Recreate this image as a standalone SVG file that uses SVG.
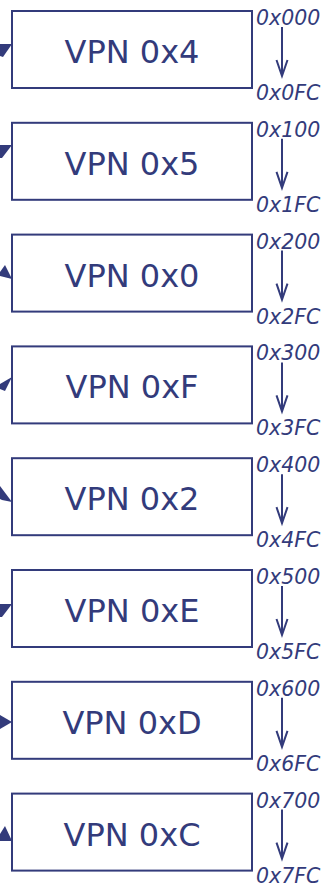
<svg xmlns="http://www.w3.org/2000/svg" width="324" height="886" viewBox="0 0 324 886">
<style>
.box{fill:#ffffff;stroke:#333b7b;stroke-width:2}
.vpn{font-family:"DejaVu Sans",Verdana,sans-serif;font-size:32px;fill:#333b7b;text-anchor:middle}
.addr{font-family:"DejaVu Sans",Verdana,sans-serif;font-size:20.5px;font-style:italic;fill:#333b7b}
.ln{stroke:#333b7b;stroke-width:2;fill:none}
.ah{fill:#333b7b;stroke:none}
</style>
<rect width="324" height="886" fill="#ffffff"/>
<defs>
<g id="range">
<line class="ln" x1="282" y1="27" x2="282" y2="76"/>
<polyline class="ln" points="276.5,60 282,76 287.5,60"/>
</g>
</defs>
<g id="node-0">
<rect class="box" x="12" y="11" width="240" height="77"/>
<text class="vpn" x="132" y="63">VPN 0x4</text>
<text class="addr" x="256" y="25">0x000</text>
<use href="#range"/>
<text class="addr" x="256" y="100">0x0FC</text>
</g>
<g id="node-1" transform="translate(0,111.8)">
<rect class="box" x="12" y="11" width="240" height="77"/>
<text class="vpn" x="132" y="63">VPN 0x5</text>
<text class="addr" x="256" y="25">0x100</text>
<use href="#range"/>
<text class="addr" x="256" y="100">0x1FC</text>
</g>
<g id="node-2" transform="translate(0,223.6)">
<rect class="box" x="12" y="11" width="240" height="77"/>
<text class="vpn" x="132" y="63">VPN 0x0</text>
<text class="addr" x="256" y="25">0x200</text>
<use href="#range"/>
<text class="addr" x="256" y="100">0x2FC</text>
</g>
<g id="node-3" transform="translate(0,335.4)">
<rect class="box" x="12" y="11" width="240" height="77"/>
<text class="vpn" x="132" y="63">VPN 0xF</text>
<text class="addr" x="256" y="25">0x300</text>
<use href="#range"/>
<text class="addr" x="256" y="100">0x3FC</text>
</g>
<g id="node-4" transform="translate(0,447.2)">
<rect class="box" x="12" y="11" width="240" height="77"/>
<text class="vpn" x="132" y="63">VPN 0x2</text>
<text class="addr" x="256" y="25">0x400</text>
<use href="#range"/>
<text class="addr" x="256" y="100">0x4FC</text>
</g>
<g id="node-5" transform="translate(0,559)">
<rect class="box" x="12" y="11" width="240" height="77"/>
<text class="vpn" x="132" y="63">VPN 0xE</text>
<text class="addr" x="256" y="25">0x500</text>
<use href="#range"/>
<text class="addr" x="256" y="100">0x5FC</text>
</g>
<g id="node-6" transform="translate(0,670.8)">
<rect class="box" x="12" y="11" width="240" height="77"/>
<text class="vpn" x="132" y="63">VPN 0xD</text>
<text class="addr" x="256" y="25">0x600</text>
<use href="#range"/>
<text class="addr" x="256" y="100">0x6FC</text>
</g>
<g id="node-7" transform="translate(0,782.6)">
<rect class="box" x="12" y="11" width="240" height="77"/>
<text class="vpn" x="132" y="63">VPN 0xC</text>
<text class="addr" x="256" y="25">0x700</text>
<use href="#range"/>
<text class="addr" x="256" y="100">0x7FC</text>
</g>
<g id="connectors">
<polygon class="ah" points="0,44 12,44 3,57 0,56"/>
<polygon class="ah" points="0,145 12,145 2,158 0,158"/>
<polygon class="ah" points="0,272 5,265 12,279 0,276"/>
<polygon class="ah" points="0,384 12,377 5,391 0,389"/>
<polygon class="ah" points="0,486 12,502 2,500 0,499"/>
<polygon class="ah" points="0,604 12,604 2,617 0,617"/>
<polygon class="ah" points="0,715 12,722 0,729"/>
<polygon class="ah" points="0,834 5,826 12,841 0,841"/>
</g>
</svg>
